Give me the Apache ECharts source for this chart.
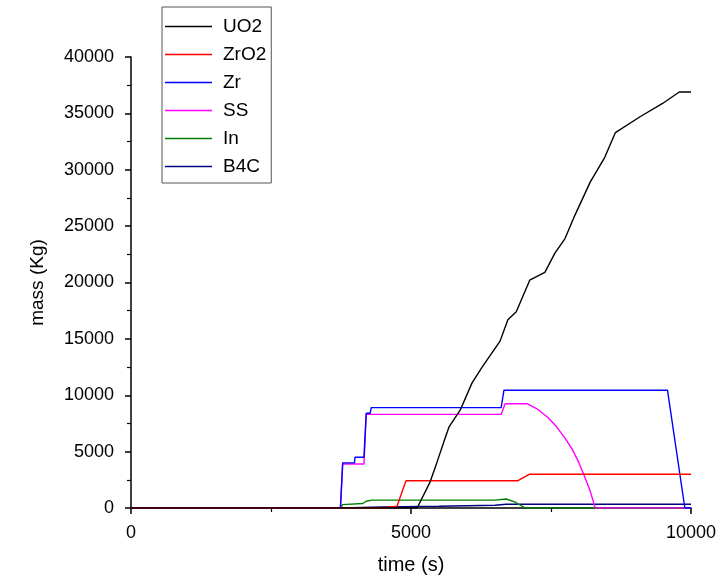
<!DOCTYPE html>
<html>
<head>
<meta charset="utf-8">
<script src="https://cdn.jsdelivr.net/npm/echarts@6/dist/echarts.min.js"></script>
<style>html,body{margin:0;padding:0;background:#fff}#c{width:725px;height:580px}</style>
</head>
<body>
<div id="c"></div>
<script>
const seriesNames = ['UO2', 'ZrO2', 'Zr', 'SS', 'In', 'B4C'];
const xTicks = [0, 5000, 10000];
const yTicks = [0, 5000, 10000, 15000, 20000, 25000, 30000, 35000, 40000];

const uo2Time = [0, 5110, 5340, 5460, 5610, 5680, 5880, 6090, 6270, 6590, 6730, 6880, 7120, 7390, 7570, 7750, 7930, 8200, 8460, 8650, 9090, 9500, 9790, 10000];
const uo2Mass = [0, 0, 2300, 4000, 6200, 7200, 8700, 11100, 12500, 14800, 16700, 17400, 20200, 20900, 22600, 23900, 26000, 28900, 31100, 33300, 34700, 35900, 36900, 36900];

const zro2Time = [0, 4500, 4750, 4910, 6910, 7110, 10000];
const zro2Mass = [0, 0, 150, 2420, 2420, 2990, 2990];

const zrTime = [0, 3740, 3780, 3990, 4000, 4160, 4200, 4270, 4290, 6610, 6660, 9580, 9890, 10000];
const zrMass = [0, 0, 4000, 4000, 4500, 4500, 8400, 8400, 8900, 8900, 10450, 10450, 0, 0];

const ssTime = [0, 3740, 3780, 4160, 4200, 6610, 6680, 7070, 7250, 7450, 7600, 7750, 7880, 8000, 8100, 8200, 8290, 10000];
const ssMass = [0, 0, 3900, 3900, 8300, 8300, 9250, 9250, 8800, 8000, 7200, 6200, 5200, 4000, 2800, 1500, 0, 0];

const inTime = [0, 3740, 3780, 4140, 4200, 4300, 6500, 6700, 6850, 7040, 10000];
const inMass = [0, 0, 300, 400, 600, 700, 700, 800, 550, 0, 0];

const b4cTime = [0, 3740, 4500, 5500, 6500, 6700, 10000];
const b4cMass = [0, 0, 100, 150, 250, 330, 330];

const colors = ['#000000', '#ff0000', '#0000ff', '#ff00ff', '#008000', '#000080'];
const times = [uo2Time, zro2Time, zrTime, ssTime, inTime, b4cTime];
const masses = [uo2Mass, zro2Mass, zrMass, ssMass, inMass, b4cMass];

const zip = (a, b) => a.map((v, i) => [v, b[i]]);
const font = 'Arial, "Liberation Sans", sans-serif';

const chart = echarts.init(document.getElementById('c'));
chart.setOption({
  animation: false,
  grid: { left: 131, right: 34, top: 57, bottom: 69 },
  legend: {
    left: 162, top: 7, orient: 'vertical',
    padding: [10, 5, 7, 3],
    itemGap: 9, itemWidth: 47, itemHeight: 14,
    borderColor: '#555', borderWidth: 1,
    icon: 'path://M0,0 L47,0 L47,1.4 L0,1.4 Z',
    textStyle: { fontFamily: font, fontSize: 19, color: '#000', padding: [0, 0, 0, 6] },
    data: seriesNames.map((n, i) => ({ name: n, itemStyle: { color: colors[i] } }))
  },
  xAxis: {
    type: 'value', min: xTicks[0], max: xTicks[xTicks.length - 1], interval: 5000,
    name: 'time (s)', nameLocation: 'middle', nameGap: 47,
    nameTextStyle: { fontFamily: font, fontSize: 20, color: '#000' },
    axisLine: { lineStyle: { color: '#000', width: 1.5 } },
    axisTick: { inside: false, length: 6, lineStyle: { color: '#000', width: 1.5 } },
    minorTick: { show: true, splitNumber: 2, length: 4, lineStyle: { color: '#000', width: 1.2 } },
    axisLabel: { fontFamily: font, fontSize: 18, color: '#000', margin: 16, formatter: v => String(v) },
    splitLine: { show: false }
  },
  yAxis: {
    type: 'value', min: yTicks[0], max: yTicks[yTicks.length - 1], interval: 5000,
    name: 'mass (Kg)', nameLocation: 'middle', nameGap: 84, nameRotate: 90,
    nameTextStyle: { fontFamily: font, fontSize: 19, color: '#000' },
    axisLine: { show: true, lineStyle: { color: '#000', width: 1.5 } },
    axisTick: { show: true, inside: false, length: 6, lineStyle: { color: '#000', width: 1.5 } },
    minorTick: { show: true, splitNumber: 2, length: 4, lineStyle: { color: '#000', width: 1.2 } },
    axisLabel: { fontFamily: font, fontSize: 18, color: '#000', margin: 17, formatter: v => String(v) },
    splitLine: { show: false }
  },
  series: seriesNames.map((n, i) => ({
    name: n, type: 'line', symbol: 'none', smooth: false,
    data: zip(times[i], masses[i]),
    lineStyle: { color: colors[i], width: 1.4 },
    itemStyle: { color: colors[i] },
    z: 10 - i
  }))
});
</script>
</body>
</html>
